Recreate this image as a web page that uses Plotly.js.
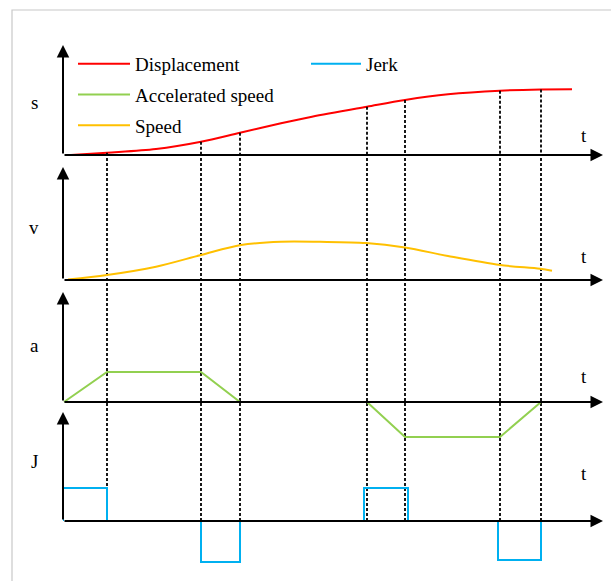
<!DOCTYPE html>
<html><head><meta charset="utf-8">
<script src="https://cdn.plot.ly/plotly-3.0.1.min.js"></script>
<style>html,body{margin:0;padding:0;background:#fff}#chart{width:611px;height:581px}</style>
</head><body><div id="chart"></div>
<script>
// ---------- data (time units along t, value units per panel) ----------
const seriesNames = ['Displacement', 'Jerk', 'Accelerated speed', 'Speed'];
const panelLabels = ['s', 'v', 'a', 'J'];
const axisEndLabel = 't';

const dispT = [0.16, 0.88, 1.86, 2.76, 3.54, 4.36, 4.98, 6.08, 6.84, 7.7, 8.74, 9.56, 10.18];
const dispV = [0, 0.23, 0.6, 1.33, 2.23, 3.17, 3.83, 4.83, 5.5, 6.07, 6.43, 6.55, 6.57];

const speedT = [0.1, 0.88, 1.86, 2.76, 3.56, 4.36, 5.14, 6.06, 6.84, 7.7, 8.74, 9.54, 9.78];
const speedV = [0.05, 0.5, 1.33, 2.5, 3.5, 3.83, 3.82, 3.7, 3.25, 2.4, 1.5, 1.13, 0.93];

const accelT = [0.02, 0.88, 2.76, 3.54, 6.08, 6.84, 8.74, 9.56];
const accelV = [0, 3.0, 3.0, 0, 0, -3.5, -3.5, 0];

const jerkT = [0, 0, 0.88, 0.88, null, 2.76, 2.76, 3.54, 3.54, null, 6.02, 6.02, 6.9, 6.9, null, 8.7, 8.7, 9.56, 9.56];
const jerkV = [0, 3.3, 3.3, 0, null, 0, -4.1, -4.1, 0, null, 0, 3.3, 3.3, 0, null, 0, -3.9, -3.9, 0];

// indices into dispT of the phase boundaries (dotted guide lines)
const knotIdx = [1, 3, 4, 7, 8, 10, 11];

// ---------- layout constants ----------
const W = 611, H = 581, L = 63, R = 8;
const FONT = 'Liberation Serif, Times New Roman, serif';
const pxPerUnit = 10;
const tMax = 10.8;            // arrow tip of the t axes
const panels = [
  {yid: 'y',  base: 155, top: 38,  bottom: 162, tip: 11.0, labelY: 5.3, tY: 2.0},
  {yid: 'y2', base: 280, top: 160, bottom: 285, tip: 11.3, labelY: 5.3, tY: 2.4},
  {yid: 'y3', base: 402, top: 285, bottom: 445, tip: 11.0, labelY: 5.7, tY: 2.6},
  {yid: 'y4', base: 521, top: 405, bottom: 570, tip: 10.9, labelY: 5.9, tY: 4.7}
];
const paperY = px => 1 - px / H;
const paperX = px => (px - L) / (W - L - R);

const COLORS = {s: '#ff0000', v: '#ffc000', a: '#92d050', J: '#00b0f0'};

const traces = [
  {x: dispT, y: dispV, yaxis: 'y', name: seriesNames[0], mode: 'lines',
   line: {color: COLORS.s, width: 2, shape: 'spline', smoothing: 0.9},
   legend: 'legend', legendgroup: 'g1', legendrank: 1},
  {x: speedT, y: speedV, yaxis: 'y2', name: seriesNames[3], mode: 'lines',
   line: {color: COLORS.v, width: 2, shape: 'spline', smoothing: 0.9},
   legend: 'legend', legendgroup: 'g3', legendrank: 3},
  {x: accelT, y: accelV, yaxis: 'y3', name: seriesNames[2], mode: 'lines',
   line: {color: COLORS.a, width: 2},
   legend: 'legend', legendgroup: 'g2', legendrank: 2},
  {x: jerkT, y: jerkV, yaxis: 'y4', name: seriesNames[1], mode: 'lines',
   line: {color: COLORS.J, width: 2}, connectgaps: false,
   legend: 'legend2', legendgroup: 'g4'}
];

// dotted guides inside the s panel: from the curve down to its t axis
knotIdx.forEach(i => {
  traces.push({x: [dispT[i], dispT[i]], y: [dispV[i], 0], yaxis: 'y', mode: 'lines',
    line: {color: '#000', width: 1.8, dash: '3px,2px'}, showlegend: false, hoverinfo: 'skip'});
});

const shapes = [];
// continuation of the dotted guides from the s axis down to the J axis
knotIdx.forEach(i => {
  shapes.push({type: 'line', xref: 'x', yref: 'paper', x0: dispT[i], x1: dispT[i],
    y0: paperY(panels[3].base), y1: paperY(panels[0].base),
    line: {color: '#000', width: 1.8, dash: '3px,2px'}, layer: 'below'});
});
// light frame
shapes.push({type: 'rect', xref: 'paper', yref: 'paper',
  x0: paperX(12), x1: 1.2, y0: -0.2, y1: paperY(10),
  line: {color: '#c8c8c8', width: 1.2}, fillcolor: 'rgba(0,0,0,0)', layer: 'below'});

const annotations = [];
panels.forEach((p, k) => {
  const common = {xref: 'x', yref: p.yid, axref: 'x', ayref: p.yid, text: '', showarrow: true,
    arrowhead: 2, arrowsize: 1.25, arrowwidth: 2, arrowcolor: '#000', standoff: 0, startstandoff: 0};
  annotations.push(Object.assign({}, common, {x: 0, y: p.tip, ax: 0, ay: 0}));
  annotations.push(Object.assign({}, common, {x: tMax, y: 0, ax: 0, ay: 0}));
  annotations.push({xref: 'paper', yref: p.yid, x: paperX(34), y: p.labelY, text: panelLabels[k],
    xanchor: 'center', yanchor: 'middle',
    showarrow: false, font: {family: FONT, size: 19, color: '#000'}});
  annotations.push({xref: 'x', yref: p.yid, x: 10.42, y: p.tY, text: axisEndLabel,
    xanchor: 'center', yanchor: 'middle',
    showarrow: false, font: {family: FONT, size: 19, color: '#000'}});
});

const hiddenAxis = {showgrid: false, zeroline: false, showline: false, showticklabels: false, ticks: '', fixedrange: true};
const layout = {
  width: W, height: H,
  margin: {l: L, r: R, t: 0, b: 0, autoexpand: false},
  paper_bgcolor: '#fff', plot_bgcolor: 'rgba(0,0,0,0)',
  font: {family: FONT, size: 19, color: '#000'},
  xaxis: Object.assign({range: [0, tMax]}, hiddenAxis),
  shapes: shapes,
  annotations: annotations,
  legend: {x: paperX(73), y: paperY(45), xanchor: 'left', yanchor: 'top',
    bgcolor: 'rgba(0,0,0,0)', font: {family: FONT, size: 19, color: '#000'},
    tracegroupgap: 3, traceorder: 'grouped', itemwidth: 52},
  legend2: {x: paperX(306), y: paperY(45), xanchor: 'left', yanchor: 'top',
    bgcolor: 'rgba(0,0,0,0)', font: {family: FONT, size: 19, color: '#000'}, itemwidth: 50},
  showlegend: true
};
panels.forEach((p, k) => {
  const key = k === 0 ? 'yaxis' : 'yaxis' + (k + 1);
  layout[key] = Object.assign({
    domain: [paperY(p.bottom), paperY(p.top)],
    range: [-(p.bottom - p.base) / pxPerUnit, (p.base - p.top) / pxPerUnit],
    anchor: 'x'
  }, hiddenAxis);
});

Plotly.newPlot('chart', traces, layout, {staticPlot: true, displayModeBar: false});
</script>
</body></html>
